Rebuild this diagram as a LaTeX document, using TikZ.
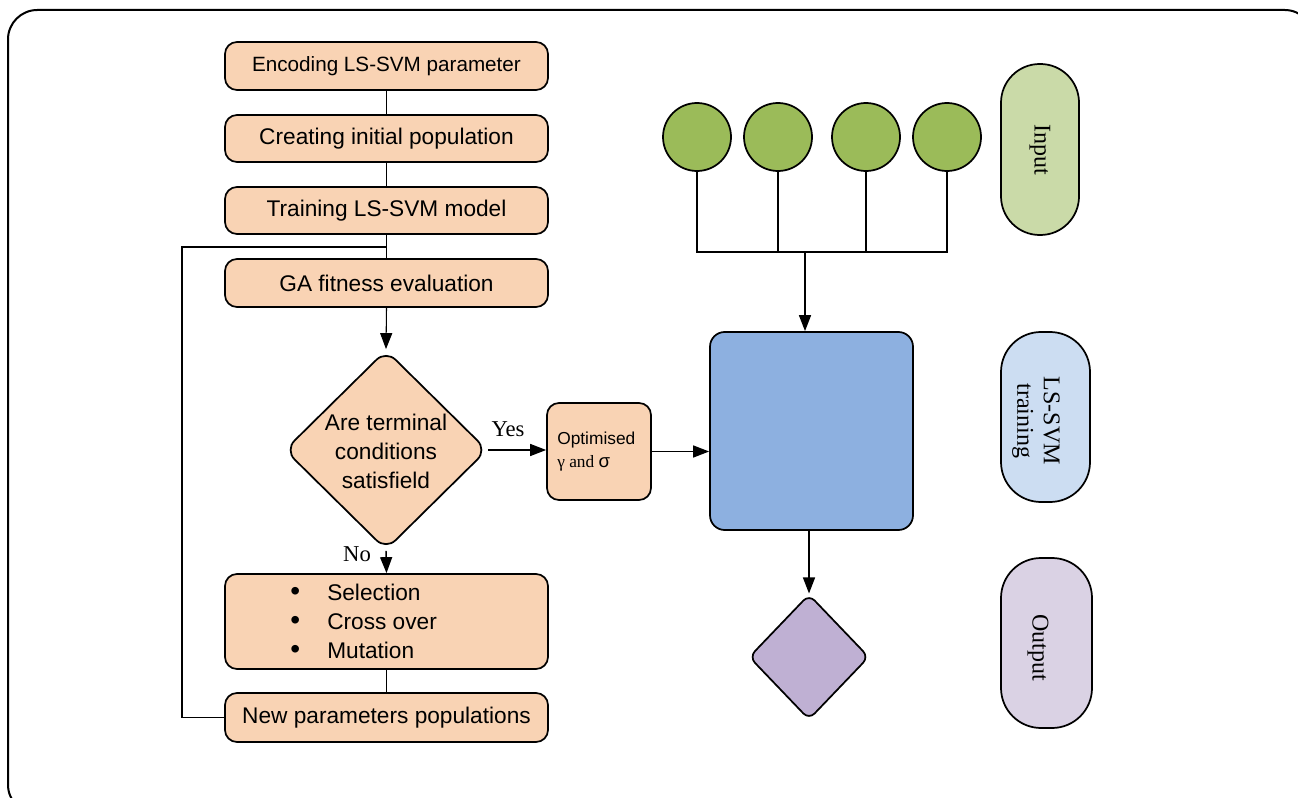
\documentclass[tikz,border=0pt]{standalone}
\usepackage{fontspec}
\setmainfont{Liberation Serif}
\newfontfamily\arial{Liberation Sans}
\usetikzlibrary{arrows.meta,shapes.geometric}
\definecolor{peach}{RGB}{249,211,180}
\definecolor{bluebox}{RGB}{141,176,224}
\definecolor{greencirc}{RGB}{155,187,89}
\definecolor{inpill}{RGB}{202,218,168}
\definecolor{lspill}{RGB}{204,221,242}
\definecolor{outpill}{RGB}{218,210,228}
\definecolor{purpdia}{RGB}{191,176,211}
\tikzset{
  ln/.style={line width=1.1pt, draw=black},
  arr/.style={ln, -{Triangle[length=12pt,width=9pt]}},
  pbox/.style={draw=black, line width=1.3pt, fill=peach, rounded corners=9pt,
    minimum width=242.25pt, inner sep=0pt, font=\arial\fontsize{17}{21.75}\selectfont},
  pill/.style={draw=black, line width=1.3pt, rounded corners=29pt, inner sep=0pt},
  circ/.style={circle, draw=black, line width=1.3pt, fill=greencirc, minimum size=51pt, inner sep=0pt},
  lbl/.style={font=\fontsize{17}{20}\selectfont, inner sep=0pt},
  side/.style={font=\fontsize{18}{20}\selectfont, rotate=-90, align=center, inner sep=0pt}
}
\begin{document}
\begin{tikzpicture}[x=0.75pt,y=-0.75pt]
\useasboundingbox (0,0) rectangle (1298,798);
\draw[line width=1.5pt, rounded corners=22pt] (8,10) rectangle (1314,814);

% left flow
\node[pbox, minimum height=36pt, font=\arial\fontsize{15.5}{18}\selectfont] (b1) at (386.5,66) {Encoding LS-SVM parameter};
\node[pbox, minimum height=35.25pt] (b2) at (386.5,138.5) {Creating initial population};
\node[pbox, minimum height=35.25pt] (b3) at (386.5,210.5) {Training LS-SVM model};
\node[pbox, minimum height=36pt] (b4) at (386.5,283) {GA fitness evaluation};
\node[diamond, draw=black, line width=1.3pt, fill=peach, rounded corners=10pt, minimum width=152pt, minimum height=150pt, inner sep=0pt] (d) at (386,450) {};
\node[align=center, inner sep=0pt, font=\arial\fontsize{17}{21.75}\selectfont] (dt) at (386,451) {Are terminal\\conditions\\satisfield};
\node[pbox, minimum height=71.25pt] (sel) at (386.5,621.5) {};
\node[anchor=west, align=left, inner sep=0pt, font=\arial\fontsize{17}{21.75}\selectfont] (selt) at (290,621.5)
  {\makebox[27.75pt][l]{\fontsize{21}{21.75}\selectfont\textbullet}Selection\\\makebox[27.75pt][l]{\fontsize{21}{21.75}\selectfont\textbullet}Cross over\\\makebox[27.75pt][l]{\fontsize{21}{21.75}\selectfont\textbullet}Mutation};
\node[pbox, minimum height=36.75pt] (np) at (386.5,717.5) {New parameters populations};

\node[draw=black, line width=1.3pt, fill=peach, rounded corners=9pt, minimum width=78pt, minimum height=72.75pt, inner sep=0pt] (opt) at (599,451.5) {};
\node[anchor=west, align=left, inner sep=0pt, font=\fontsize{13}{17.25}\selectfont] (optt) at (557,452)
  {{\arial Optimised}\\γ and {\arial\fontsize{14}{17.25}\selectfont σ}};

% right part
\node[draw=black, line width=1.3pt, fill=bluebox, rounded corners=11pt, minimum width=152.25pt, minimum height=148.5pt, inner sep=0pt] (blue) at (811.5,431) {};
\node[circ] (c1) at (697,137) {};
\node[circ] (c2) at (778,137) {};
\node[circ] (c3) at (866,137) {};
\node[circ] (c4) at (947,137) {};
\node[diamond, draw=black, line width=1.3pt, fill=purpdia, rounded corners=6pt, minimum width=90pt, minimum height=94pt, inner sep=0pt] (out) at (809,657) {};

\node[pill, fill=inpill, minimum width=58.5pt, minimum height=128.25pt] (inp) at (1040,149.5) {};
\node[side] at (inp) {Input};
\node[pill, fill=lspill, minimum width=66.75pt, minimum height=127.5pt, rounded corners=30pt] (lsp) at (1045.5,417) {};
\node[side, font=\fontsize{18}{20}\selectfont] at (1036,421) {LS-SVM\\training};
\node[pill, fill=outpill, minimum width=68.25pt, minimum height=127.5pt, rounded corners=30pt] (outp) at (1046.5,643) {};
\node[side] at (1038,648) {Output};

% connectors left
\coordinate (j) at (386.5,247);
\coordinate (lp) at (182,717.5);
\draw[ln] (b1) -- (b2);
\draw[ln] (b2) -- (b3);
\draw[ln] (b3) -- (b4);
\draw[ln] (np.west) -- (lp) |- (j);
\draw[arr, line width=0.8pt] (b4.south) -- (d.north);
\draw[arr] (d.south) -- (sel.north);
\draw[ln] (sel) -- (np);
\draw[arr] (d.east) -- (opt.west |- d.east);
\node[lbl, anchor=south] (yes) at (508,437) {Yes};
\node[lbl] (no) at (357,554) {No};
\draw[arr] (opt.east) -- (opt.east -| blue.west);

% connectors right
\coordinate (bus) at (805,252);
\draw[ln] (c1.south) -- (c1.south |- bus) -- (c4.south |- bus) -- (c4.south);
\draw[ln] (c2.south) -- (c2.south |- bus);
\draw[ln] (c3.south) -- (c3.south |- bus);
\draw[arr] (bus) -- (bus |- blue.north);
\draw[arr] (blue.south -| out.north) -- (out.north);
\end{tikzpicture}
\end{document}
